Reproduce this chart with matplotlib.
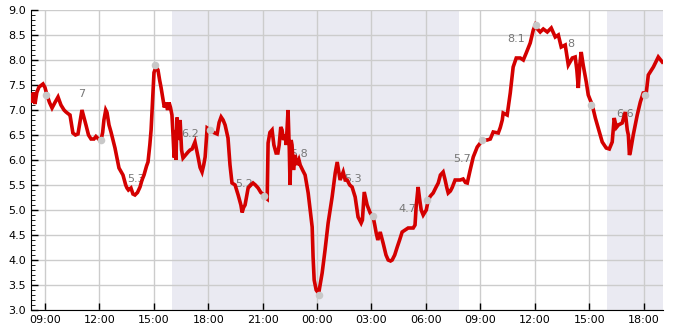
import numpy as np
import pandas as pd
import matplotlib
matplotlib.use('Agg')
import matplotlib.pyplot as plt
import matplotlib.dates as mdates
from matplotlib.ticker import MultipleLocator, FormatStrFormatter

# hours since midnight of the first day, and reading at that time
hours = [8.23, 8.30, 8.37, 8.45, 8.55, 8.67, 8.89, 9.00, 9.11, 9.25, 9.39, 9.55, 9.72, 9.88,
         10.05, 10.16, 10.30, 10.38, 10.54, 10.68, 10.82, 10.95, 11.04, 11.15, 11.26, 11.40,
         11.54, 11.70, 11.81, 11.95, 12.09, 12.18, 12.25, 12.35, 12.42, 12.53, 12.64, 12.86,
         13.08, 13.30, 13.45, 13.52, 13.60, 13.74, 13.85, 13.96, 14.10, 14.24, 14.35, 14.46,
         14.60, 14.68, 14.78, 14.85, 14.95, 15.01, 15.12, 15.23, 15.32, 15.40, 15.51, 15.58,
         15.67, 15.76, 15.84, 15.92, 16.00, 16.06, 16.12, 16.17, 16.22, 16.28, 16.36, 16.45,
         16.53, 16.61, 16.75, 16.89, 17.00, 17.11, 17.27, 17.44, 17.55, 17.66, 17.75, 17.83,
         17.94, 18.10, 18.30, 18.49, 18.60, 18.71, 18.82, 18.93, 19.09, 19.20, 19.31, 19.48,
         19.65, 19.80, 19.87, 19.95, 20.03, 20.20, 20.35, 20.47, 20.60, 20.75, 20.90, 21.08,
         21.18, 21.25, 21.30, 21.40, 21.52, 21.62, 21.74, 21.84, 21.91, 22.00, 22.07, 22.15,
         22.24, 22.30, 22.40, 22.47, 22.51, 22.57, 22.62, 22.70, 22.79, 22.90, 23.00, 23.07,
         23.20, 23.34, 23.51, 23.62, 23.73, 23.78, 23.84, 23.95, 24.05, 24.11, 24.28, 24.44,
         24.61, 24.83, 25.00, 25.11, 25.20, 25.27, 25.44, 25.55, 25.66, 25.80, 25.93, 26.10,
         26.26, 26.43, 26.50, 26.60, 26.76, 26.93, 27.09, 27.18, 27.26, 27.35, 27.48, 27.64,
         27.80, 27.92, 28.05, 28.14, 28.28, 28.42, 28.55, 28.69, 29.02, 29.30, 29.40, 29.46,
         29.57, 29.66, 29.74, 29.85, 30.02, 30.13, 30.25, 30.40, 30.55, 30.68, 30.80, 30.95,
         31.06, 31.15, 31.23, 31.35, 31.45, 31.61, 31.75, 31.89, 32.05, 32.18, 32.28, 32.44,
         32.61, 32.83, 33.00, 33.11, 33.38, 33.55, 33.71, 33.99, 34.10, 34.21, 34.26, 34.48,
         34.65, 34.81, 34.98, 35.20, 35.37, 35.53, 35.75, 35.92, 36.03, 36.15, 36.30, 36.47,
         36.69, 36.91, 37.13, 37.30, 37.46, 37.68, 37.85, 38.07, 38.23, 38.32, 38.40, 38.48,
         38.56, 38.67, 38.84, 38.95, 39.17, 39.34, 39.50, 39.72, 39.94, 40.11, 40.27, 40.38,
         40.50, 40.61, 40.82, 40.99, 41.10, 41.16, 41.22, 41.27, 41.43, 41.65, 41.82, 41.98,
         42.15, 42.26, 42.54, 42.81, 43.03]
values = [7.30, 7.15, 7.35, 7.12, 7.35, 7.46, 7.52, 7.45, 7.30, 7.15, 7.04, 7.15, 7.26, 7.10,
          7.00, 6.96, 6.92, 6.90, 6.54, 6.50, 6.52, 6.80, 7.00, 6.85, 6.70, 6.50,
          6.42, 6.42, 6.47, 6.42, 6.40, 6.55, 6.80, 7.00, 6.95, 6.70, 6.56, 6.24,
          5.84, 5.70, 5.50, 5.44, 5.40, 5.44, 5.32, 5.30, 5.35, 5.46, 5.60, 5.70,
          5.88, 5.96, 6.30, 6.60, 7.30, 7.75, 7.86, 7.80, 7.60, 7.45, 7.20, 7.05,
          7.15, 7.00, 7.15, 7.05, 6.90, 6.50, 6.05, 6.60, 6.00, 6.85, 6.40, 6.80,
          6.20, 6.04, 6.10, 6.16, 6.20, 6.22, 6.36, 6.06, 5.85, 5.76, 5.90, 6.06,
          6.64, 6.60, 6.55, 6.52, 6.75, 6.86, 6.80, 6.70, 6.44, 5.90, 5.54, 5.50,
          5.30, 5.10, 4.95, 5.05, 5.10, 5.44, 5.50, 5.54, 5.50, 5.44, 5.35, 5.30,
          5.24, 5.22, 6.34, 6.55, 6.60, 6.30, 6.14, 6.14, 6.30, 6.66, 6.60, 6.40,
          6.50, 6.30, 7.00, 6.20, 5.50, 6.40, 6.30, 5.80, 6.10, 5.90, 6.00, 5.90,
          5.80, 5.70, 5.34, 5.00, 4.66, 4.06, 3.60, 3.40, 3.35, 3.38, 3.74, 4.20,
          4.74, 5.26, 5.74, 5.96, 5.75, 5.60, 5.76, 5.60, 5.60, 5.50, 5.46, 5.26,
          4.86, 4.74, 4.80, 5.36, 5.10, 4.94, 4.86, 4.70, 4.54, 4.40, 4.56, 4.34,
          4.10, 4.00, 3.98, 4.00, 4.10, 4.26, 4.40, 4.56, 4.64, 4.64, 4.70, 5.06,
          5.46, 5.20, 5.00, 4.90, 5.00, 5.20, 5.28, 5.34, 5.45, 5.54, 5.70, 5.76,
          5.60, 5.45, 5.34, 5.38, 5.45, 5.60, 5.60, 5.60, 5.62, 5.55, 5.54, 5.80,
          6.06, 6.26, 6.34, 6.40, 6.40, 6.42, 6.56, 6.54, 6.65, 6.80, 6.94, 6.90,
          7.34, 7.86, 8.04, 8.04, 8.00, 8.14, 8.34, 8.60, 8.70, 8.62, 8.56, 8.62,
          8.56, 8.64, 8.46, 8.50, 8.26, 8.30, 7.90, 8.04, 8.06, 7.80, 7.44, 7.90,
          8.16, 7.90, 7.56, 7.30, 7.10, 6.84, 6.64, 6.36, 6.24, 6.22, 6.36, 6.84,
          6.65, 6.70, 6.74, 6.96, 6.60, 6.50, 6.10, 6.16, 6.50, 6.90, 7.16, 7.34,
          7.35, 7.70, 7.86, 8.06, 7.96]

# grey markers every three hours
marker_hours = [9.08, 12.08, 15.08, 18.08, 21.08, 24.08, 27.08, 30.08, 33.08, 36.08, 39.08, 42.08]
marker_values = [7.3, 6.4, 7.9, 6.6, 5.28, 3.3, 4.88, 5.2, 6.4, 8.7, 7.1, 7.3]

# text labels between markers
label_hours = [11, 14, 17, 20, 23, 26, 29, 32, 35, 38, 41]
label_values = [7.0, 5.3, 6.2, 5.2, 5.8, 5.3, 4.7, 5.7, 8.1, 8.0, 6.6]
label_texts = ['7', '5.3', '6.2', '5.2', '5.8', '5.3', '4.7', '5.7', '8.1', '8', '6.6']

# shaded night periods
night_spans = [(16.0, 31.85), (40.0, 43.2)]

base = pd.Timestamp('2024-05-01')


def to_time(h):
    return base + pd.to_timedelta(np.asarray(h, dtype=float), unit='h')


fig = plt.figure(figsize=(6.85, 3.3), dpi=100)
ax = fig.add_axes([31 / 685, 20 / 330, 632 / 685, 300 / 330])

for s, e in night_spans:
    ax.axvspan(to_time(s), to_time(e), color='#eaeaf2', lw=0, zorder=0)

ax.plot(to_time(hours), values, color='#d40000', lw=2.6, zorder=3,
        solid_joinstyle='miter')
ax.scatter(to_time(marker_hours), marker_values, s=30, color='#c8c8c8', zorder=4,
           linewidths=0)
for h, v, t in zip(label_hours, label_values, label_texts):
    ax.text(to_time(h), v + 0.32, t, ha='center', va='center', fontsize=8,
            color='#777777', zorder=2)

ax.set_xlim(to_time(8.23), to_time(43.07))
ax.set_ylim(3, 9)
ax.yaxis.set_major_locator(MultipleLocator(0.5))
ax.yaxis.set_minor_locator(MultipleLocator(0.1))
ax.yaxis.set_major_formatter(FormatStrFormatter('%.1f'))
ax.xaxis.set_major_locator(mdates.HourLocator(byhour=range(0, 24, 3)))
ax.xaxis.set_major_formatter(mdates.DateFormatter('%H:%M'))

ax.grid(True, which='major', color='#cccccc', lw=1, zorder=1)
ax.set_axisbelow(True)
ax.tick_params(axis='both', which='major', labelsize=8, direction='in', length=5,
               color='black', width=1)
ax.tick_params(axis='y', which='minor', direction='in', length=3, color='black')
ax.spines['top'].set_visible(False)
ax.spines['right'].set_visible(False)
ax.spines['left'].set_color('black')
ax.spines['bottom'].set_color('black')

fig.savefig('out.png', dpi=100)
